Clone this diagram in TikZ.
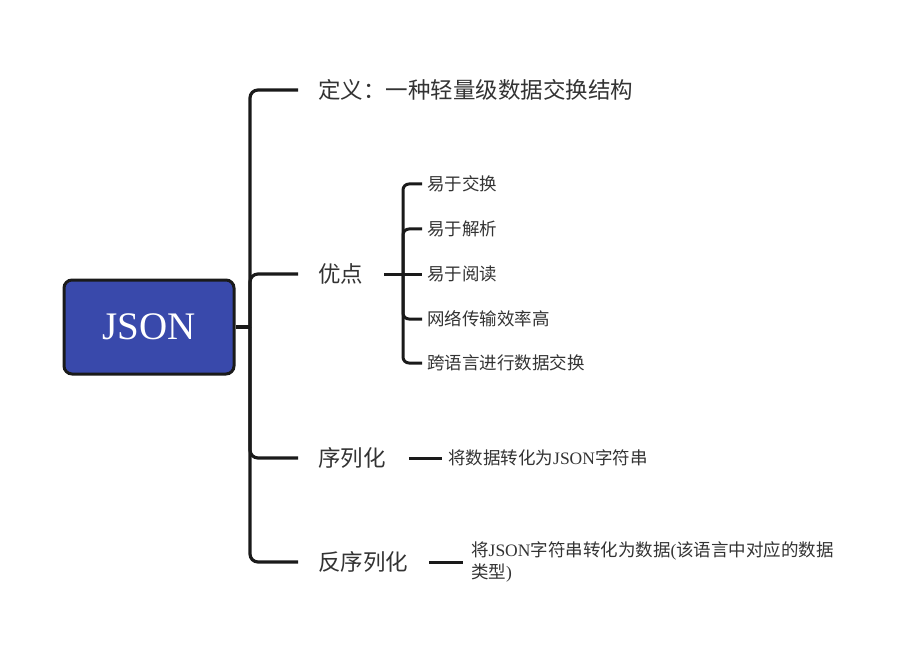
\documentclass[tikz,border=0pt]{standalone}
\usepackage{fontspec}
\setmainfont{Noto Sans CJK SC}
\newfontfamily\jsfont{Liberation Serif}
\definecolor{linec}{HTML}{1A1A1A}
\definecolor{textc}{HTML}{333333}
\definecolor{rootfill}{HTML}{3949AB}
\begin{document}
\begin{tikzpicture}[x=1pt,y=-1pt,
  conn/.style={draw=linec, line width=3.2pt, rounded corners=8pt},
  subconn/.style={draw=linec, line width=3pt, rounded corners=6pt},
  rootbox/.style={draw=linec, line width=3pt, fill=rootfill, rounded corners=8pt,
    minimum width=170pt, minimum height=94pt, text=white,
    font=\jsfont\fontsize{39}{39}\selectfont},
  mainlbl/.style={anchor=west, inner xsep=20pt, inner ysep=2pt, text=textc,
    font=\fontsize{22.5}{27}\selectfont},
  sublbl/.style={anchor=west, inner xsep=5pt, inner ysep=2pt, text=textc,
    font=\fontsize{17.5}{22}\selectfont}]
\useasboundingbox (0,0) rectangle (905,655);
\node[rootbox] (root) at (149,327) {JSON};
\coordinate (hub) at (250,327);
\node[mainlbl] (def) at (298,90) {定义：一种轻量级数据交换结构};
\node[mainlbl] (adv) at (298,274) {优点};
\node[mainlbl] (ser) at (298,458) {序列化};
\node[mainlbl] (deser) at (298,562) {反序列化};
\draw[conn] (root.east) -- (hub);
\draw[conn] (hub) |- (def.west);
\draw[conn] (hub) |- (adv.west);
\draw[conn] (hub) |- (ser.west);
\draw[conn] (hub) |- (deser.west);
% advantages
\coordinate (advhub) at (403,274);
\node[sublbl] (a1) at (422,184) {易于交换};
\node[sublbl] (a2) at (422,229) {易于解析};
\node[sublbl] (a3) at (422,274) {易于阅读};
\node[sublbl] (a4) at (422,319) {网络传输效率高};
\node[sublbl] (a5) at (422,363) {跨语言进行数据交换};
\draw[subconn] ([xshift=1pt]adv.east) -- (a3.west);
\draw[subconn] (advhub) |- (a1.west);
\draw[subconn] (advhub) |- (a2.west);
\draw[subconn] (advhub) |- (a4.west);
\draw[subconn] (advhub) |- (a5.west);
% serialization
\node[sublbl, inner xsep=6pt] (serd) at (442,458) {将数据转化为{\jsfont JSON}字符串};
\draw[subconn] ([xshift=3pt]ser.east) -- (serd.west);
\node[sublbl, inner xsep=8pt, align=left] (deserd) at (463,562)
  {将{\jsfont JSON}字符串转化为数据{\jsfont (}该语言中对应的数据\\类型{\jsfont )}};
\draw[subconn] ([xshift=1pt]deser.east) -- (deserd.west);
\end{tikzpicture}
\end{document}
